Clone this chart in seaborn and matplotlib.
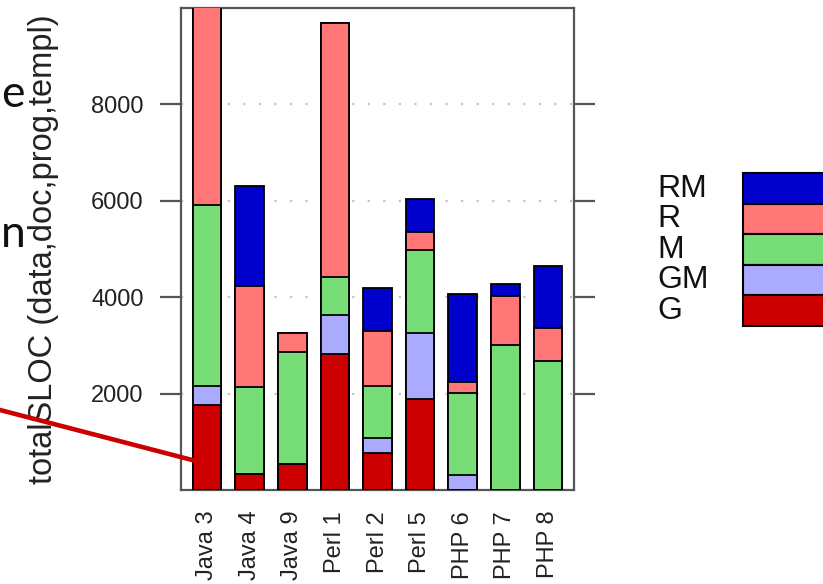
import matplotlib
matplotlib.use("Agg")
import matplotlib.pyplot as plt
import seaborn as sns
import numpy as np
from matplotlib.patches import Rectangle
from matplotlib.lines import Line2D

# --- data -------------------------------------------------------------
projects = ["Java 3", "Java 4", "Java 9", "Perl 1", "Perl 2",
            "Perl 5", "PHP 6", "PHP 7", "PHP 8"]
sloc_G = [1770, 330, 540, 2830, 760, 1890, 0, 0, 0]
sloc_GM = [380, 0, 0, 810, 310, 1360, 310, 0, 0]
sloc_M = [3770, 1800, 2330, 780, 1090, 1730, 1710, 3010, 2670]
sloc_R = [4500, 2110, 380, 5270, 1140, 370, 220, 1020, 690]
sloc_RM = [0, 2070, 0, 0, 900, 690, 1820, 240, 1290]
series_names = ["G", "GM", "M", "R", "RM"]
series_colors = ["#CC0000", "#AAAAFF", "#77DD77", "#FF7777", "#0000CC"]
y_ticks = [2000, 4000, 6000, 8000]
y_label = "totalSLOC (data,doc,prog,templ)"

series = [sloc_G, sloc_GM, sloc_M, sloc_R, sloc_RM]

# --- style ------------------------------------------------------------
sns.set_theme(style="white")
plt.rcParams["font.family"] = ["Liberation Sans", "DejaVu Sans"]

W, H = 823, 584
fig = plt.figure(figsize=(W / 100, H / 100), dpi=100)
ax = fig.add_axes([181 / W, 1 - 490 / H, (574 - 181) / W, (490 - 8) / H])

# stacked bars: draw cumulative totals from the top layer downwards
cum = np.cumsum(np.array(series, dtype=float), axis=0)
for i in range(len(series) - 1, -1, -1):
    sns.barplot(x=projects, y=cum[i], color=series_colors[i], saturation=1,
                edgecolor="black", linewidth=1.3, width=0.67,
                errorbar=None, ax=ax, zorder=3)

ax.set_xlim(-0.61, 8.61)
ax.set_ylim(0, 10000)
ax.set_yticks(y_ticks)
ax.set_yticklabels([str(t) for t in y_ticks])
ax.set_xlabel("")
ax.set_ylabel("")

ax.yaxis.grid(True, linestyle=(0, (1, 6)), color="#c4c4c4", linewidth=1.6)
ax.xaxis.grid(False)
ax.set_axisbelow(True)

for s in ax.spines.values():
    s.set_color("#555555")
    s.set_linewidth(1.6)

ax.tick_params(axis="y", left=True, right=True, labelright=False,
               length=15, width=1.6, color="#555555", pad=12,
               labelsize=17, labelcolor="#222222", direction="out")
ax.tick_params(axis="x", length=0, pad=15, labelsize=17,
               labelcolor="#222222")
for lab in ax.get_xticklabels():
    lab.set_rotation(90)
    lab.set_va("top")
    lab.set_ha("center")

# y-axis title
fig.text(44 / W, 1 - 249 / H, y_label, rotation=90, ha="center",
         va="center", fontsize=23.5, color="#222222")

# --- legend (colour key on the right) ----------------------------------
box_top = 173.3
box_h = 30.5
for k, idx in enumerate(range(len(series) - 1, -1, -1)):
    y0 = box_top + k * box_h
    fig.add_artist(Rectangle((743 / W, 1 - (y0 + box_h) / H), 0.2, box_h / H,
                             transform=fig.transFigure,
                             facecolor=series_colors[idx],
                             edgecolor="black", linewidth=1.5))
    fig.text(657 / W, 1 - (y0 + box_h / 2) / H, series_names[idx],
             ha="left", va="center", fontsize=23, color="#111111")

# --- slide overlay: text fragments and pointer line ----------------------
fig.text(1 / W, 1 - 107 / H, "e", ha="left", va="baseline",
         fontsize=32, color="#111111", family=["Lato", "DejaVu Sans"])
fig.text(1 / W, 1 - 247 / H, "n", ha="left", va="baseline",
         fontsize=32, color="#111111", family=["Lato", "DejaVu Sans"])
fig.add_artist(Line2D([0, 196 / W], [1 - 410 / H, 1 - 461 / H],
                      transform=fig.transFigure, color="#CC0000",
                      linewidth=3.3, zorder=10))

fig.savefig("out.png", dpi=100)
